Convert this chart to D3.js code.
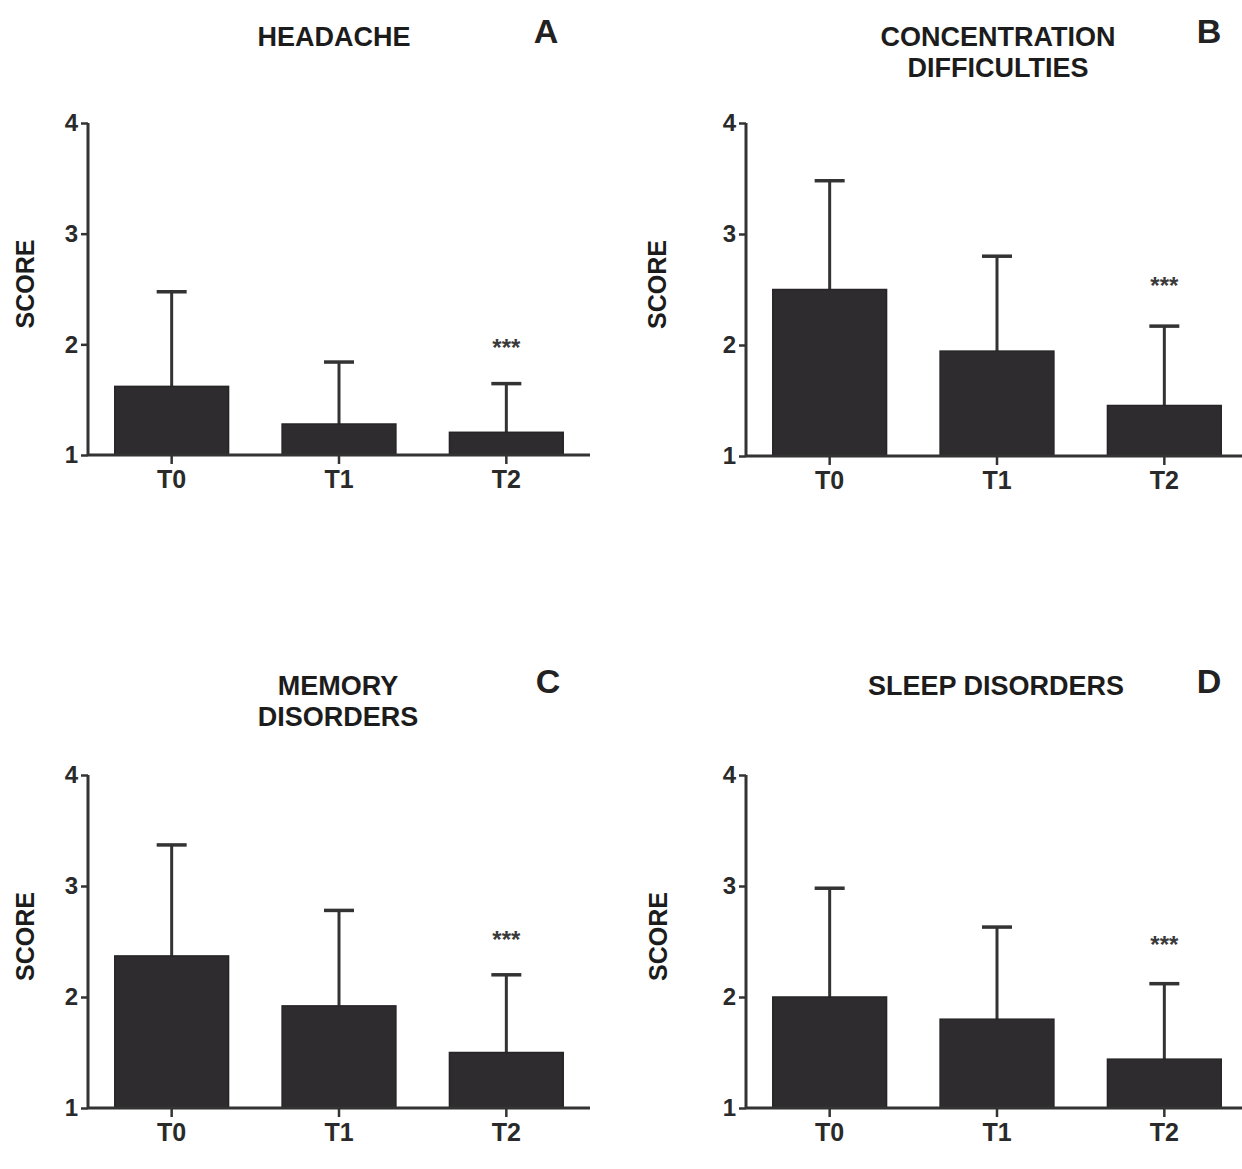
<!DOCTYPE html>
<html>
<head>
<meta charset="utf-8">
<script src="https://cdn.jsdelivr.net/npm/d3@7/dist/d3.min.js"></script>
<style>
  html, body { margin: 0; padding: 0; background: #fff; }
  svg { display: block; }
  text { font-family: "Liberation Sans", Arial, Helvetica, sans-serif; font-weight: bold; }
</style>
</head>
<body>
<svg id="chart" width="1242" height="1169"></svg>
<script>
// ---- data ----
const categories = ["T0", "T1", "T2"];
const yTicks = [1, 2, 3, 4];
const panelLetters = ["A", "B", "C", "D"];
const panelTitles = [["HEADACHE"], ["CONCENTRATION", "DIFFICULTIES"], ["MEMORY", "DISORDERS"], ["SLEEP DISORDERS"]];
const yLabel = "SCORE";
const meanHeadache = [1.62, 1.28, 1.205];
const sdTopHeadache = [2.475, 1.84, 1.645];
const meanConcentration = [2.50, 1.945, 1.455];
const sdTopConcentration = [3.48, 2.80, 2.17];
const meanMemory = [2.37, 1.92, 1.50];
const sdTopMemory = [3.37, 2.78, 2.20];
const meanSleep = [2.00, 1.80, 1.44];
const sdTopSleep = [2.98, 2.63, 2.12];
const significance = ["***", "***", "***", "***"];
const significanceLevel = [1.99, 2.56, 2.54, 2.50];

const means = [meanHeadache, meanConcentration, meanMemory, meanSleep];
const sdTops = [sdTopHeadache, sdTopConcentration, sdTopMemory, sdTopSleep];

// ---- layout ----
const layout = [
  { x0: 88,  x1: 590,  yBot: 455,  yTop: 123, titleX: 334, titleY: 46,  letterX: 546,  letterY: 43,  scoreX: 25 },
  { x0: 746, x1: 1248, yBot: 456,  yTop: 123, titleX: 998, titleY: 46,  letterX: 1209, letterY: 43,  scoreX: 657 },
  { x0: 88,  x1: 590,  yBot: 1108, yTop: 775, titleX: 338, titleY: 695, letterX: 548,  letterY: 693, scoreX: 25 },
  { x0: 746, x1: 1248, yBot: 1108, yTop: 775, titleX: 996, titleY: 695, letterX: 1209, letterY: 693, scoreX: 658 }
];

const barColor = "#2e2c2e";
const lineColor = "#333333";
const textColor = "#1c1c1c";

const svg = d3.select("#chart");

layout.forEach((L, i) => {
  const g = svg.append("g");
  const x = d3.scaleBand().domain(categories).range([L.x0, L.x1]).paddingInner(0.32).paddingOuter(0.16);
  const y = d3.scaleLinear().domain([1, 4]).range([L.yBot, L.yTop]);
  const data = categories.map((c, k) => ({ c, m: means[i][k], t: sdTops[i][k] }));

  // error bars (behind bars)
  const eb = g.append("g");
  data.forEach(d => {
    const cx = x(d.c) + x.bandwidth() / 2;
    eb.append("line").attr("x1", cx).attr("x2", cx).attr("y1", y(d.m)).attr("y2", y(d.t))
      .attr("stroke", lineColor).attr("stroke-width", 3);
    eb.append("line").attr("x1", cx - 15).attr("x2", cx + 15).attr("y1", y(d.t)).attr("y2", y(d.t))
      .attr("stroke", lineColor).attr("stroke-width", 3.5);
  });

  // bars
  g.selectAll("rect.bar").data(data).enter().append("rect")
    .attr("class", "bar")
    .attr("x", d => x(d.c))
    .attr("width", x.bandwidth())
    .attr("y", d => y(d.m))
    .attr("height", d => y(1) - y(d.m))
    .attr("fill", barColor)
    .attr("stroke", "#262426").attr("stroke-width", 1.5);

  // y axis
  const yAxis = d3.axisLeft(y).tickValues(yTicks).tickFormat(d3.format("d")).tickSize(7).tickPadding(3);
  const ya = g.append("g").attr("transform", `translate(${L.x0},0)`).call(yAxis);
  ya.select(".domain").attr("stroke", lineColor).attr("stroke-width", 3).attr("d", `M0,${L.yBot}V${L.yTop}`);
  ya.selectAll(".tick line").attr("stroke", lineColor).attr("stroke-width", 2.5);
  ya.selectAll(".tick text").attr("fill", "#2a2a2a").style("font-size", "24px").style("font-weight", "bold")
    .style("font-family", "'Liberation Sans', Arial, sans-serif");

  // x axis
  const xAxis = d3.axisBottom(x).tickSize(9).tickPadding(6);
  const xa = g.append("g").attr("transform", `translate(0,${L.yBot})`).call(xAxis);
  xa.select(".domain").attr("stroke", lineColor).attr("stroke-width", 3).attr("d", `M${L.x0},0H${L.x1}`);
  xa.selectAll(".tick line").attr("stroke", lineColor).attr("stroke-width", 2.5);
  xa.selectAll(".tick text").attr("fill", "#2a2a2a").style("font-size", "25px").style("font-weight", "bold")
    .style("font-family", "'Liberation Sans', Arial, sans-serif");

  // significance marker above T2
  const last = categories[categories.length - 1];
  g.append("text")
    .attr("x", x(last) + x.bandwidth() / 2)
    .attr("y", y(significanceLevel[i]) + 11)
    .attr("text-anchor", "middle")
    .attr("fill", "#3a3a3a")
    .style("font-size", "24px")
    .text(significance[i]);

  // y label
  const cy = (L.yBot + L.yTop) / 2 + 0;
  g.append("text")
    .attr("transform", `translate(${L.scoreX + 9},${cy - 5}) rotate(-90)`)
    .attr("text-anchor", "middle")
    .attr("fill", textColor)
    .style("font-size", "25px")
    .text(yLabel);

  // title
  const t = g.append("text").attr("text-anchor", "middle").attr("fill", textColor).style("font-size", "27px");
  panelTitles[i].forEach((line, k) => {
    t.append("tspan").attr("x", L.titleX).attr("y", L.titleY + k * 31).text(line);
  });

  // panel letter
  g.append("text").attr("x", L.letterX).attr("y", L.letterY).attr("text-anchor", "middle")
    .attr("fill", "#222").style("font-size", "34px").text(panelLetters[i]);
});
</script>
</body>
</html>
